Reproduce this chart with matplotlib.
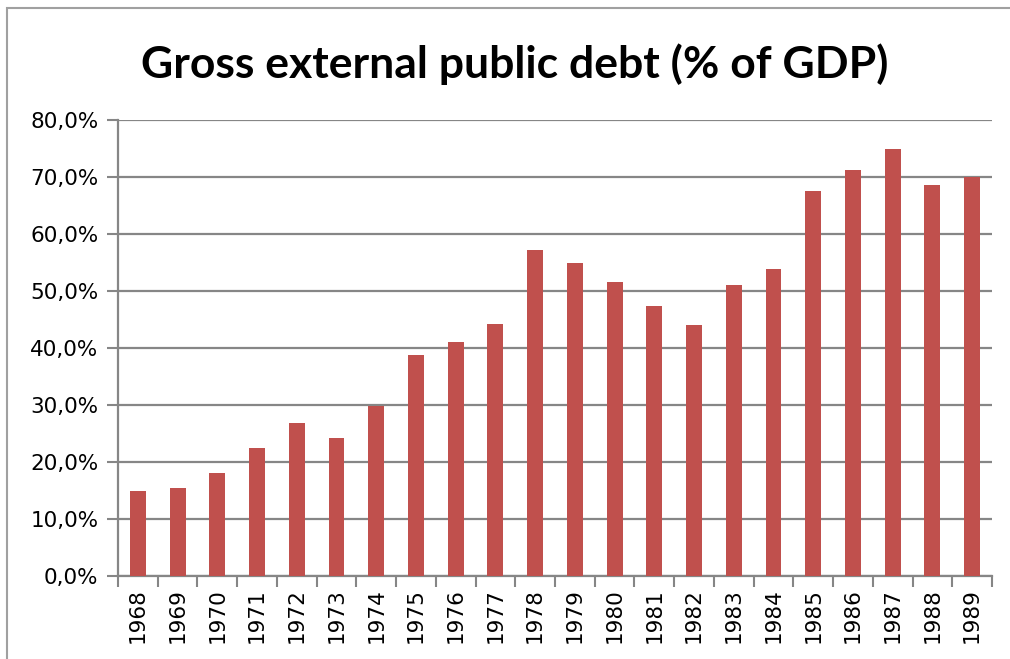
import numpy as np
import matplotlib
matplotlib.use("Agg")
import matplotlib.pyplot as plt
from matplotlib.ticker import FuncFormatter

years = [str(y) for y in range(1968, 1990)]
debt = [14.9, 15.4, 18.1, 22.5, 26.8, 24.2, 29.8, 38.8, 41.1, 44.2, 57.2,
        54.9, 51.6, 47.4, 44.0, 51.1, 53.9, 67.5, 71.2, 74.9, 68.6, 70.0]
yticks = [0, 10, 20, 30, 40, 50, 60, 70, 80]

grid_col = '#868686'
bar_col = '#C0504D'

fig = plt.figure(figsize=(10.10, 6.59), dpi=100)
ax = fig.add_axes([118/1010, 1-576/659, 874/1010, 456/659])

x = np.arange(len(years))
ax.bar(x, debt, width=0.4, color=bar_col, zorder=3)

ax.set_xlim(-0.5, len(years) - 0.5)
ax.set_ylim(0, 80)
ax.set_yticks(yticks)
ax.yaxis.set_major_formatter(FuncFormatter(lambda v, p: f"{v:.1f}%".replace('.', ',')))
ax.set_xticks(x)
ax.set_xticklabels(years, rotation=90, fontsize=15.5)
ax.set_xticks(np.arange(-0.5, len(years)), minor=True)
ax.tick_params(axis='x', which='major', length=0, pad=9)
ax.tick_params(axis='x', which='minor', length=8, width=1.5, color=grid_col, direction='out')
ax.tick_params(axis='y', length=8, width=1.5, color=grid_col, labelsize=15.5, pad=6)
ax.yaxis.grid(True, color=grid_col, linewidth=1.6, zorder=0)

for s in ['top', 'right']:
    ax.spines[s].set_visible(False)
for s in ['left', 'bottom']:
    ax.spines[s].set_color(grid_col)
    ax.spines[s].set_linewidth(1.6)

fig.text(0.51, 1-64/659, 'Gross external public debt (% of GDP)', ha='center', va='center',
         fontsize=32, fontweight='bold', family='Lato')

# outer chart border
fig.add_artist(plt.Rectangle((7/1010, -0.05), 1.1, 1 - 8/659 + 0.05, transform=fig.transFigure,
                             fill=False, edgecolor='#A0A0A0', linewidth=1.5))

fig.savefig('out.png', dpi=100)
